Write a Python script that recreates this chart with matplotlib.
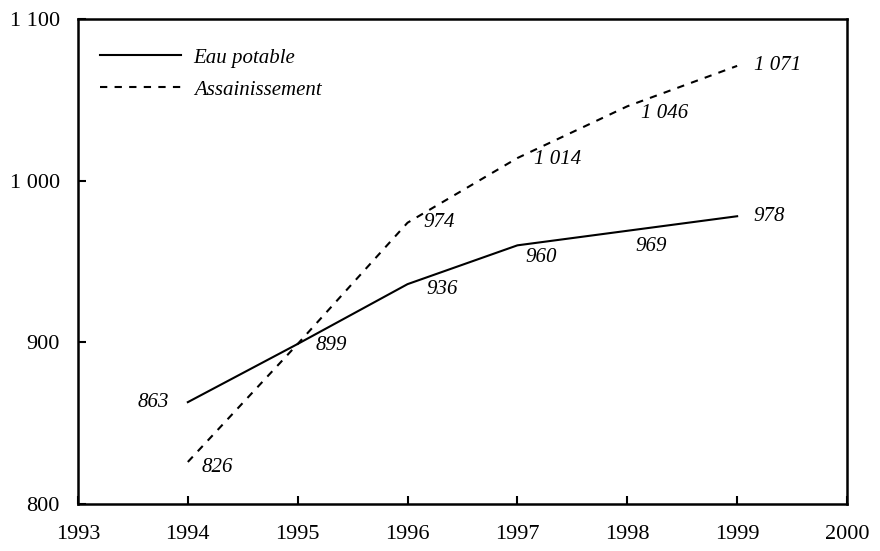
import matplotlib.pyplot as plt
from matplotlib.ticker import FuncFormatter

plt.rcParams['font.family'] = ['Liberation Serif', 'DejaVu Serif']

years = [1994, 1995, 1996, 1997, 1998, 1999]
eau_potable = [863, 899, 936, 960, 969, 978]
assainissement = [826, 899, 974, 1014, 1046, 1071]

# label offsets in points (dx, dy); None = no label
eau_offsets = [(-25, 0), (24, -1), (25, -4), (17, -9), (17, -11), (23, 0)]
ass_offsets = [(21, -4), None, (23, 0), (29, -1), (27, -5), (29, 0)]


def fmt(v, pos=None):
    return f"{int(v):,}".replace(",", " ")


fig = plt.figure(figsize=(8.8, 5.51), dpi=100)
ax = fig.add_axes([0.0886, 0.0853, 0.8739, 0.8802])

ax.plot(years, eau_potable, color='black', lw=1.5, label='Eau potable')
ax.plot(years, assainissement, color='black', lw=1.5, ls=(0, (3.5, 3.5)),
        label='Assainissement')

for x, y, off in zip(years, eau_potable, eau_offsets):
    if off:
        ax.annotate(fmt(y), (x, y), xytext=off, textcoords='offset points',
                    ha='center', va='center', style='italic', fontsize=15)
for x, y, off in zip(years, assainissement, ass_offsets):
    if off:
        ax.annotate(fmt(y), (x, y), xytext=off, textcoords='offset points',
                    ha='center', va='center', style='italic', fontsize=15)

ax.set_xlim(1993, 2000)
ax.set_ylim(800, 1100)
ax.set_xticks(range(1993, 2001))
ax.set_yticks([800, 900, 1000, 1100])
ax.yaxis.set_major_formatter(FuncFormatter(fmt))
ax.tick_params(direction='in', length=6, width=1.5, labelsize=16,
               top=False, right=False)
ax.tick_params(axis='y', pad=13)
ax.tick_params(axis='x', pad=15)
for s in ax.spines.values():
    s.set_linewidth(1.8)

leg = ax.legend(loc='upper left', bbox_to_anchor=(0.0286, 0.94),
                frameon=False, handlelength=3.9, handletextpad=0.6,
                prop={'style': 'italic', 'size': 15}, borderaxespad=0,
                borderpad=0, labelspacing=0.6)

fig.savefig('out.png', dpi=100)
